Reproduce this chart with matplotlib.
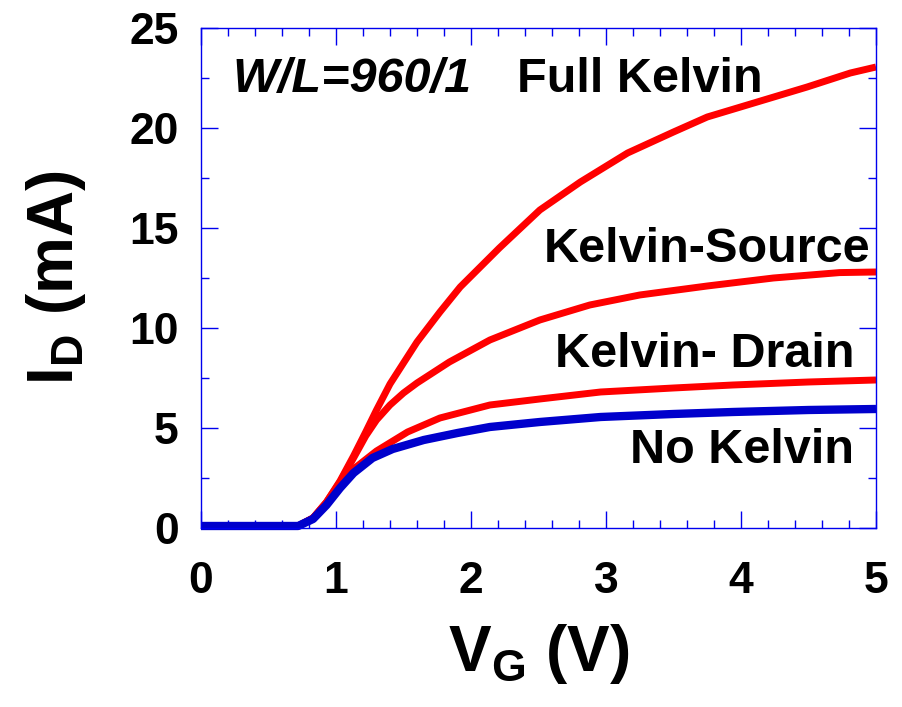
import matplotlib
matplotlib.use('Agg')
import matplotlib.pyplot as plt
from matplotlib.ticker import MultipleLocator

plt.rcParams['font.family'] = ['Liberation Sans', 'DejaVu Sans']
plt.rcParams['font.weight'] = 'bold'
plt.rcParams['mathtext.fontset'] = 'custom'
plt.rcParams['mathtext.rm'] = 'Liberation Sans:bold'
plt.rcParams['mathtext.bf'] = 'Liberation Sans:bold'
plt.rcParams['mathtext.it'] = 'Liberation Sans:bold:italic'

# No Kelvin (blue)
vg_none = [0.0, 0.72, 0.83, 0.93, 1.03, 1.13, 1.27, 1.42, 1.65, 1.9, 2.14, 2.51, 2.96, 3.5, 3.94, 4.5, 5.0]
id_none = [0.1, 0.1, 0.45, 1.15, 2.0, 2.75, 3.5, 3.95, 4.4, 4.75, 5.05, 5.3, 5.55, 5.7, 5.8, 5.9, 5.95]

# Kelvin-Drain
vg_drain = [0.0, 0.72, 0.83, 0.93, 1.03, 1.13, 1.3, 1.53, 1.77, 2.14, 2.51, 2.96, 3.5, 3.94, 4.5, 5.0]
id_drain = [0.1, 0.1, 0.5, 1.25, 2.1, 2.95, 3.85, 4.8, 5.5, 6.15, 6.45, 6.8, 7.0, 7.15, 7.3, 7.4]

# Kelvin-Source
vg_source = [0.0, 0.72, 0.83, 0.93, 1.03, 1.13, 1.22, 1.3, 1.4, 1.5, 1.6, 1.84, 2.14, 2.51, 2.88, 3.25, 3.75, 4.24, 4.73, 5.0]
id_source = [0.1, 0.1, 0.5, 1.3, 2.3, 3.5, 4.6, 5.4, 6.15, 6.75, 7.25, 8.3, 9.4, 10.4, 11.15, 11.65, 12.1, 12.5, 12.77, 12.8]

# Full Kelvin
vg_full = [0.0, 0.72, 0.83, 0.93, 1.03, 1.13, 1.22, 1.3, 1.4, 1.6, 1.77, 1.92, 2.21, 2.51, 2.81, 3.16, 3.5, 3.75, 4.12, 4.49, 4.81, 5.0]
id_full = [0.1, 0.1, 0.5, 1.3, 2.35, 3.6, 4.8, 5.9, 7.2, 9.3, 10.8, 12.05, 14.0, 15.9, 17.3, 18.75, 19.8, 20.55, 21.3, 22.05, 22.75, 23.05]

annotations = [
    ('W/L=960/1', 0.23, 21.8, 'left', 'italic'),
    ('Full Kelvin', 2.34, 21.8, 'left', 'normal'),
    ('Kelvin-Source', 4.96, 13.3, 'right', 'normal'),
    ('Kelvin- Drain', 4.84, 8.05, 'right', 'normal'),
    ('No Kelvin', 4.84, 3.25, 'right', 'normal'),
]

frame_blue = '#0000ee'

fig = plt.figure(figsize=(9.03, 7.07), dpi=100)
ax = fig.add_axes([0.2226, 0.2532, 0.7475, 0.7072])

ax.plot(vg_full, id_full, color='#ff0000', linewidth=5, clip_on=False, solid_capstyle='butt')
ax.plot(vg_source, id_source, color='#ff0000', linewidth=5, clip_on=False, solid_capstyle='butt')
ax.plot(vg_drain, id_drain, color='#ff0000', linewidth=5, clip_on=False, solid_capstyle='butt')
ax.plot(vg_none, id_none, color='#0000cc', linewidth=6, clip_on=False, solid_capstyle='butt')

ax.set_xlim(0, 5)
ax.set_ylim(0, 25)
ax.xaxis.set_major_locator(MultipleLocator(1))
ax.xaxis.set_minor_locator(MultipleLocator(0.2))
ax.yaxis.set_major_locator(MultipleLocator(5))
ax.yaxis.set_minor_locator(MultipleLocator(2.5))

ax.tick_params(which='both', direction='in', top=True, right=True, colors=frame_blue,
               labelcolor='black', labelsize=32, width=1.0)
ax.tick_params(which='major', length=12)
ax.tick_params(which='minor', length=6)
ax.tick_params(axis='x', pad=24)
ax.tick_params(axis='y', pad=16)
for lbl in ax.get_xticklabels() + ax.get_yticklabels():
    lbl.set_fontweight('bold')

for s in ax.spines.values():
    s.set_color(frame_blue)
    s.set_linewidth(1.0)

ax.set_xlabel(r'V$_{\mathrm{G}}$ (V)', fontsize=46, fontweight='bold', labelpad=14)
ax.set_ylabel(r'I$_{\mathrm{D}}$ (mA)', fontsize=46, fontweight='bold', labelpad=30)

for text, x, y, ha, style in annotations:
    ax.text(x, y, text, fontsize=35, fontweight='bold', fontstyle=style,
            ha=ha, va='baseline')

fig.savefig('out.png', dpi=100)
